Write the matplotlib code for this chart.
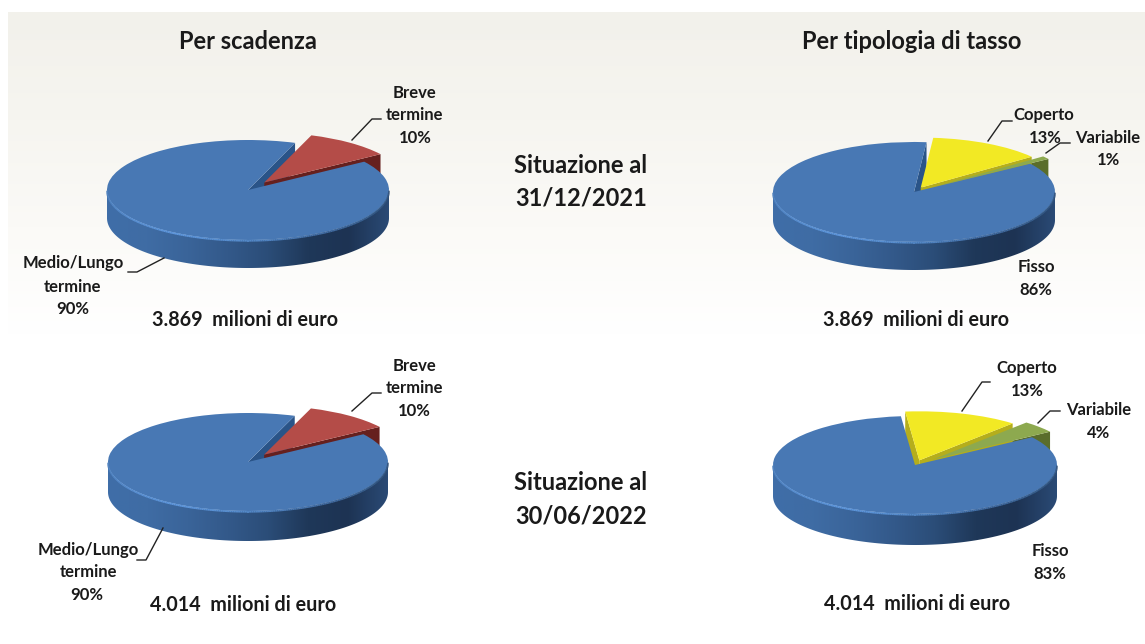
import numpy as np
import matplotlib
matplotlib.use('Agg')
import matplotlib.pyplot as plt
from matplotlib.patches import Polygon
from matplotlib.colors import LinearSegmentedColormap
from matplotlib.collections import LineCollection

plt.rcParams['font.family'] = ['Lato', 'DejaVu Sans']

W, H = 1145, 644

# valori (primo spicchio = blu, poi in senso antiorario)
scad_2021 = [90, 10]
scad_2022 = [90, 10]
tasso_2021 = [86, 1, 13]
tasso_2022 = [83, 4, 13]

titoli = ['Per scadenza', 'Per tipologia di tasso']
situazioni = [['Situazione al', '31/12/2021'], ['Situazione al', '30/06/2022']]
totali = ['3.869  milioni di euro', '3.869  milioni di euro',
          '4.014  milioni di euro', '4.014  milioni di euro']

col_scad = ['#4878b4', '#b44c48']
col_tasso = ['#4878b4', '#8da94f', '#f2e924']
col_scad_dark = ['#2a5488', '#66201e']
col_tasso_dark = ['#2a5488', '#5a6d2b', '#b5ae1c']

blue_wall = LinearSegmentedColormap.from_list(
    'wall', ['#3f6ea8', '#3f6ca4', '#3a6499', '#33598a', '#2b4d78', '#1f3859', '#1d3353', '#2a4a75'])
rim = LinearSegmentedColormap.from_list(
    'rim', ['#4c7fbc', '#5a90d2', '#5f98de', '#5489c8', '#446fa6', '#38608f', '#2c4d76'])


def torta(fig, vals, colors, darks, cx, cy, rx, ry, depth, explode):
    # l'asse contiene l'ellisse con raggio 1 in coordinate dati
    d = depth / ry
    xlim = (-1.3, 1.3)
    ylim = (-1.3 - d, 1.5)
    left = cx + xlim[0] * rx
    bottom = H - (cy - ylim[0] * ry)
    ax = fig.add_axes([left / W, bottom / H,
                       (xlim[1] - xlim[0]) * rx / W, (ylim[1] - ylim[0]) * ry / H])
    start = 394.5 - 3.6 * vals[0]
    wedges, _ = ax.pie(vals, colors=colors, startangle=start, explode=explode,
                       wedgeprops=dict(linewidth=0))
    ax.set_aspect('auto')
    ax.set_xlim(xlim)
    ax.set_ylim(ylim)

    for i, w in enumerate(wedges):
        (x0, y0) = w.center
        t1, t2 = w.theta1, w.theta2
        w.set_zorder(5 if i == 0 else 3 + i * 0.1)

        # pareti radiali visibili solo se rivolte verso chi guarda
        for t, vis in ((t1, np.cos(np.radians(t1)) > 0), (t2, np.cos(np.radians(t2)) < 0)):
            if not vis:
                continue
            px = x0 + np.cos(np.radians(t))
            py = y0 + np.sin(np.radians(t))
            ax.add_patch(Polygon([(x0, y0), (px, py), (px, py - d), (x0, y0 - d)],
                                 closed=True, fc=darks[i], ec='none',
                                 zorder=2 + i * 0.1))

    # parete frontale dello spicchio principale, con sfumatura
    a = np.radians(np.linspace(180, 360, 200))
    xs, ys = np.cos(a), np.sin(a)
    wall = Polygon(np.r_[np.c_[xs, ys], np.c_[xs, ys - d][::-1]], closed=True,
                   fc='none', ec='none', transform=ax.transData)
    ax.add_patch(wall)
    grad = np.linspace(0, 1, 256).reshape(1, -1)
    im = ax.imshow(grad, extent=(-1, 1, -1 - d, 0), cmap=blue_wall, aspect='auto', zorder=4)
    im.set_clip_path(wall)
    ax.set_aspect('auto')
    ax.set_xlim(xlim)
    ax.set_ylim(ylim)

    # bordo chiaro sul davanti della faccia superiore
    pts = np.c_[xs, ys - 0.015]
    segs = np.stack([pts[:-1], pts[1:]], axis=1)
    lc = LineCollection(segs, cmap=rim, array=np.linspace(0, 1, len(segs)),
                        linewidths=1.3, zorder=6)
    ax.add_collection(lc)
    return ax


fig = plt.figure(figsize=(W / 100, H / 100), dpi=100, facecolor='white')

# sfondo
bg = fig.add_axes([0, 0, 1, 1], zorder=0)
bg.set_xlim(0, W)
bg.set_ylim(H, 0)
bg.axis('off')
beige = LinearSegmentedColormap.from_list('bg', ['#f2f1eb', '#f6f5f0', '#fbfaf7', '#ffffff'])
bg.imshow(np.linspace(0, 1, 256).reshape(-1, 1), extent=(8, W, 335, 12), cmap=beige, aspect='auto')
bg.set_xlim(0, W)
bg.set_ylim(H, 0)

torta(fig, scad_2021, col_scad, col_scad_dark, 248, 190, 141, 50, 28, [0, 0.19])
torta(fig, tasso_2021, col_tasso, col_tasso_dark, 914, 192, 141, 50, 28, [0, 0.16, 0.1])
torta(fig, scad_2022, col_scad, col_scad_dark, 248, 462, 140, 49, 30, [0, 0.19])
torta(fig, tasso_2022, col_tasso, col_tasso_dark, 915, 465, 142, 49, 31, [0, 0.17, 0.1])

# testi e linee guida in pixel
ov = fig.add_axes([0, 0, 1, 1], zorder=10)
ov.set_xlim(0, W)
ov.set_ylim(H, 0)
ov.axis('off')
ov.patch.set_alpha(0)


def txt(x, y, s, size=12):
    ov.text(x, y, s, ha='center', va='center', fontsize=size, fontweight='bold', color='#1a1a1a')


txt(248, 41, titoli[0], 17)
txt(912, 41, titoli[1], 17)
txt(581, 165, situazioni[0][0], 17)
txt(581, 198, situazioni[0][1], 17)
txt(581, 482, situazioni[1][0], 17)
txt(581, 516, situazioni[1][1], 17)
txt(245, 320, totali[0], 14.2)
txt(916, 320, totali[1], 14.2)
txt(243, 605, totali[2], 14.2)
txt(917, 604, totali[3], 14.2)

etichette = [
    (415, 93, 'Breve'), (415, 115, 'termine'), (415, 138, '10%'),
    (73, 263, 'Medio/Lungo'), (73, 287, 'termine'), (73, 309, '90%'),
    (1044, 115, 'Coperto'), (1045, 138, '13%'),
    (1108, 138, 'Variabile'), (1108, 160, '1%'),
    (1036, 267, 'Fisso'), (1036, 290, '86%'),
    (414, 366, 'Breve'), (414, 388, 'termine'), (414, 411, '10%'),
    (88, 550, 'Medio/Lungo'), (88, 572, 'termine'), (87, 595, '90%'),
    (1027, 368, 'Coperto'), (1027, 391, '13%'),
    (1099, 410, 'Variabile'), (1099, 433, '4%'),
    (1050, 551, 'Fisso'), (1050, 574, '83%'),
]
for x, y, s in etichette:
    txt(x, y, s)

guide = [
    [(352, 140), (372, 119), (381, 119)],
    [(164, 258), (137, 272), (128, 272)],
    [(988, 141), (1002, 121), (1012, 121)],
    [(1046, 153), (1060, 143), (1070, 143)],
    [(352, 411), (372, 393), (381, 393)],
    [(163, 528), (146, 560), (137, 560)],
    [(962, 411), (982, 382), (990, 382)],
    [(1038, 423), (1050, 411), (1060, 411)],
]
for g in guide:
    ov.plot(*zip(*g), color='#222222', lw=1.0)

fig.savefig('out.png', dpi=100)
